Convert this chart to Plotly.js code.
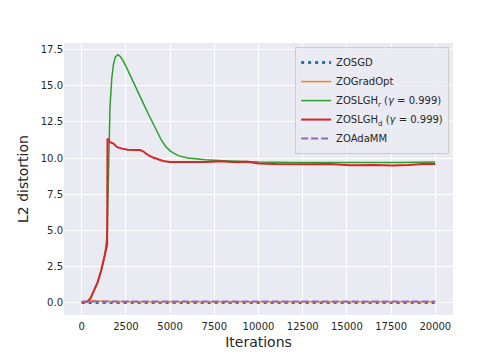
<!DOCTYPE html>
<html>
<head>
<meta charset="utf-8">
<script src="https://cdn.plot.ly/plotly-3.0.1.min.js"></script>
<style>
  html, body { margin: 0; padding: 0; background: #ffffff; }
  #chart { width: 504px; height: 360px; }
</style>
</head>
<body>
<div id="chart"></div>
<script>
// Series (iterations vs L2 distortion)
const flatIters = [0, 2500, 5000, 7500, 10000, 12500, 15000, 17500, 20000];
const zosgdVals = [0.01, 0.01, 0.01, 0.01, 0.01, 0.01, 0.01, 0.01, 0.01];

const gradOptIters = [0, 300, 600, 1000, 1500, 2500, 5000, 10000, 15000, 20000];
const gradOptVals = [0.05, 0.1, 0.12, 0.1, 0.07, 0.05, 0.05, 0.05, 0.05, 0.05];

const adaIters = [0, 2500, 5000, 7500, 10000, 12500, 15000, 17500, 20000];
const adaVals = [0.08, 0.08, 0.08, 0.08, 0.08, 0.08, 0.08, 0.08, 0.08];

const slghRIters = [0, 300, 500, 700, 900, 1100, 1300, 1400, 1450, 1500, 1550, 1600, 1700,
  1800, 1900, 2050, 2200, 2400, 2600, 2800, 3000, 3250, 3500, 3750, 4000, 4250, 4500, 4750,
  5000, 5250, 5500, 6000, 7000, 8000, 9000, 10000, 12000, 14000, 16000, 18000, 20000];
const slghRVals = [0, 0.05, 0.3, 0.8, 1.4, 2.2, 3.2, 4.2, 5.0, 8.0, 11.5, 13.5, 15.5,
  16.5, 17.0, 17.15, 17.0, 16.6, 16.1, 15.6, 15.0, 14.4, 13.75, 13.1, 12.45, 11.85, 11.25, 10.8,
  10.5, 10.3, 10.15, 10.0, 9.88, 9.82, 9.78, 9.72, 9.7, 9.68, 9.7, 9.7, 9.72];

const slghDIters = [0, 300, 500, 700, 900, 1100, 1300, 1400, 1440, 1460, 1600, 1800, 2000,
  2300, 2600, 3000, 3300, 3500, 3700, 4000, 4300, 4600, 5000, 6000, 7000, 7900, 8500, 9400,
  10000, 11000, 12000, 13000, 14000, 15200, 16500, 17600, 18500, 19500, 20000];
const slghDVals = [0, 0.05, 0.3, 0.8, 1.4, 2.2, 3.2, 3.8, 4.0, 11.35, 11.1, 11.0, 10.75,
  10.65, 10.58, 10.55, 10.55, 10.45, 10.25, 10.05, 9.9, 9.8, 9.72, 9.72, 9.72, 9.78, 9.72, 9.75,
  9.62, 9.58, 9.6, 9.57, 9.58, 9.5, 9.52, 9.48, 9.52, 9.6, 9.58];

const xTicks = [0, 2500, 5000, 7500, 10000, 12500, 15000, 17500, 20000];
const yTicks = [0, 2.5, 5, 7.5, 10, 12.5, 15, 17.5];

const traces = [
  {
    x: flatIters, y: zosgdVals, name: 'ZOSGD', mode: 'lines',
    line: { color: '#1f77b4', width: 3, dash: '3px,4px' }
  },
  {
    x: gradOptIters, y: gradOptVals, name: 'ZOGradOpt', mode: 'lines',
    line: { color: '#ff7f0e', width: 1.5 }
  },
  {
    x: slghRIters, y: slghRVals, name: 'ZOSLGH<sub>r</sub> (<i>γ</i> = 0.999)', mode: 'lines',
    line: { color: '#2ca02c', width: 1.5 }
  },
  {
    x: slghDIters, y: slghDVals, name: 'ZOSLGH<sub>d</sub> (<i>γ</i> = 0.999)', mode: 'lines',
    line: { color: '#d62728', width: 2 }
  },
  {
    x: adaIters, y: adaVals, name: 'ZOAdaMM', mode: 'lines',
    line: { color: '#9467bd', width: 2, dash: '7px,3px' }
  }
];

const layout = {
  width: 504,
  height: 360,
  margin: { l: 64, r: 51, t: 43, b: 45 },
  paper_bgcolor: '#ffffff',
  plot_bgcolor: '#EAEAF2',
  font: { family: 'DejaVu Sans, sans-serif', size: 10, color: '#262626' },
  showlegend: true,
  legend: {
    x: 0.99, y: 0.985, xanchor: 'right', yanchor: 'top',
    bgcolor: 'rgba(234,234,242,0.8)',
    bordercolor: '#cccccc', borderwidth: 1,
    font: { size: 10, color: '#262626' },
    itemwidth: 30,
    tracegroupgap: 0
  },
  xaxis: {
    range: [-1000, 21000],
    tickvals: xTicks,
    ticktext: xTicks.map(String),
    showgrid: true, gridcolor: '#ffffff', gridwidth: 1,
    zeroline: false, showline: false, ticks: '',
    ticklabelstandoff: 4,
    title: { text: 'Iterations', font: { size: 14, color: '#262626' }, standoff: 6 }
  },
  yaxis: {
    range: [-0.86, 17.96],
    tickvals: yTicks,
    ticktext: yTicks.map(v => v.toFixed(1)),
    showgrid: true, gridcolor: '#ffffff', gridwidth: 1,
    zeroline: false, showline: false, ticks: '',
    title: { text: 'L2 distortion', font: { size: 14, color: '#262626' }, standoff: 8 }
  }
};

Plotly.newPlot('chart', traces, layout, { displayModeBar: false, staticPlot: true });
</script>
</body>
</html>
